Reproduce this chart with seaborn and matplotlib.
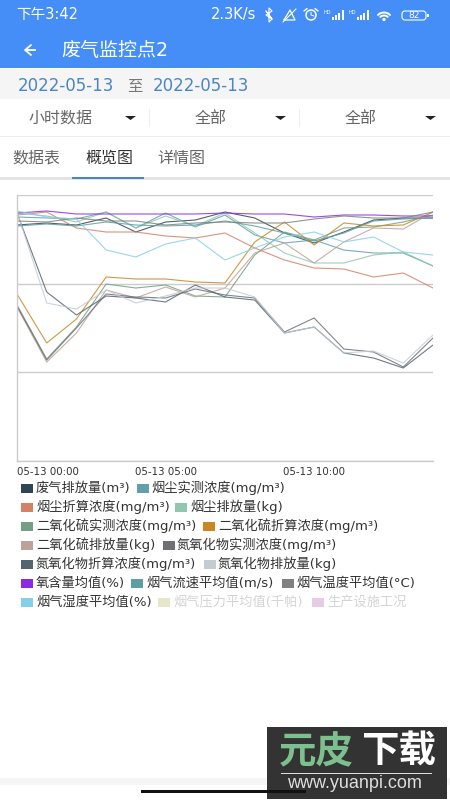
import numpy as np
import pandas as pd
import seaborn as sns
import matplotlib
matplotlib.use("Agg")
import matplotlib.pyplot as plt
from matplotlib.patches import Rectangle, Polygon, FancyBboxPatch, Arc, Circle

hours = ["00", "01", "02", "03", "04", "05", "06", "07", "08", "09", "10", "11", "12", "13", "14"]
tick_idx = [0, 5, 10]
tick_labels = ["05-13 00:00", "05-13 05:00", "05-13 10:00"]

exhaust = [236,238,236,243,229,239,241,249,243,228,218,229,241,243,243]
dust_raw = [244,243,242,249,233,248,234,246,226,218,221,211,208,208,195]
dust_conv = [246,249,233,229,229,225,223,228,213,201,193,192,184,188,173]
dust_mass = [248,245,239,249,233,245,235,248,228,208,198,198,206,209,195]
so2_raw = [156,102,134,177,173,176,165,164,206,229,221,233,234,239,246]
so2_conv = [167,118,142,184,182,182,179,178,219,239,216,238,235,236,249]
so2_mass = [154,99,128,171,163,174,164,173,208,218,198,219,233,232,249]
nox_raw = [155,101,133,167,164,163,172,166,163,129,143,112,109,94,123]
nox_conv = [248,169,146,165,163,159,176,164,161,128,134,108,103,93,116]
nox_mass = [249,158,152,171,158,165,173,173,164,128,134,108,110,98,126]
oxygen = [248,250,247,247,247,247,247,248,247,247,244,246,246,245,245]
flow = [235,237,235,239,236,235,236,240,235,228,220,228,240,242,243]
temperature = [240,239,243,240,240,236,238,239,238,238,242,245,243,243,249]
humidity = [250,244,242,211,204,217,223,201,213,224,229,219,224,209,206]

names = ["废气排放量(m³)", "烟尘实测浓度(mg/m³)", "烟尘折算浓度(mg/m³)", "烟尘排放量(kg)",
         "二氧化硫实测浓度(mg/m³)", "二氧化硫折算浓度(mg/m³)", "二氧化硫排放量(kg)",
         "氮氧化物实测浓度(mg/m³)", "氮氧化物折算浓度(mg/m³)", "氮氧化物排放量(kg)",
         "氧含量均值(%)", "烟气流速平均值(m/s)", "烟气温度平均值(°C)", "烟气湿度平均值(%)",
         "烟气压力平均值(千帕)", "生产设施工况"]
colors = ["#2f4554", "#61a0a8", "#d48265", "#91c7ae", "#749f83", "#ca8622", "#bda29a", "#6e7074",
          "#546570", "#c4ccd3", "#8a2be2", "#5f9ea0", "#808080", "#87ceeb", "#e6e6cc", "#e6cce6"]
values = [exhaust, dust_raw, dust_conv, dust_mass, so2_raw, so2_conv, so2_mass, nox_raw,
          nox_conv, nox_mass, oxygen, flow, temperature, humidity]

sns.set_theme(style="white")
plt.rcParams['font.family'] = ['DejaVu Sans', 'Noto Sans CJK SC']

fig = plt.figure(figsize=(4.5, 8), dpi=100, facecolor="white")

# app chrome in pixel coordinates
ui = fig.add_axes([0, 0, 1, 1], zorder=0)
ui.set_xlim(0, 450); ui.set_ylim(800, 0); ui.axis("off")
def rect(x, y, w, h, c, **k):
    ui.add_patch(Rectangle((x, y), w, h, fc=c, ec="none", **k))
def txt(x, y, s, size, c="#555555", ha="left", **k):
    ui.text(x, y, s, fontsize=size, color=c, ha=ha, va="center", **k)

rect(0, 0, 450, 68, "#458ef7")
rect(0, 69, 450, 30, "#f5f5f5")
rect(0, 136, 450, 1, "#eeeeee")
rect(0, 177, 450, 3, "#e4e4e4")
rect(72, 176.5, 72, 2, "#4a86c6")
rect(149, 109, 1, 18, "#eeeeee"); rect(299, 109, 1, 18, "#eeeeee")
rect(0, 778, 450, 7, "#f5f5f5")

txt(16, 15, "下午3:42", 10.5, "white")
txt(211, 15, "2.3K/s", 10.5, "white")
# status icons
ui.plot([266, 272, 266, 272, 269, 269, 272, 266], [11, 19, 15, 11, 8, 22, 19, 11], color="white", lw=.8)
ui.plot([284, 290, 295, 288, 284], [20, 10, 20, 20, 20], color="white", lw=.9)
ui.plot([283, 296], [22, 9], color="white", lw=.8)
ui.add_patch(Circle((311, 15), 5, fc="none", ec="white", lw=1.1))
ui.plot([304, 307], [11, 8.5], color="white", lw=1); ui.plot([315, 318], [8.5, 11], color="white", lw=1)
ui.plot([311, 311, 314], [12, 15, 16], color="white", lw=.7)
for x0 in (324, 349):
    ui.text(x0 + 3, 12, "HD", fontsize=3.6, color="white", ha="center", va="center")
    for i, h in enumerate([3, 5, 7, 10]):
        rect(x0 + 8 + i * 3.2, 20 - h, 2, h, "white")
for r, lw in ((17, 1.4), (11, 1.4)):
    ui.add_patch(Arc((384, 21), r, r, theta1=220, theta2=320, color="white", lw=lw))
ui.add_patch(Circle((384, 19.5), 1.6, fc="white", ec="none"))
ui.add_patch(FancyBboxPatch((402, 11), 24, 9, boxstyle="round,pad=0,rounding_size=3", fc="none", ec="white", lw=.8))
ui.text(414, 15.5, "82", fontsize=6.5, color="white", ha="center", va="center")
rect(427, 14, 1.5, 3, "white")

ui.annotate("", xy=(21, 50), xytext=(38, 50), arrowprops=dict(arrowstyle="->,head_width=0.3,head_length=0.35", color="white", lw=1.3))
txt(61, 51, "废气监控点2", 13.7, "white")
txt(18, 86, "2022-05-13", 12, "#4a86c6")
txt(127, 86, "至", 11, "#777777")
txt(153, 86, "2022-05-13", 12, "#4a86c6")
txt(29, 118, "小时数据", 11.5, "#666666")
txt(195, 118, "全部", 11.5, "#666666")
txt(345, 118, "全部", 11.5, "#666666")
for x0 in (125, 275, 425):
    ui.add_patch(Polygon([[x0, 116], [x0 + 11, 116], [x0 + 5.5, 120]], fc="#222222", ec="none"))
txt(12, 158, "数据表", 11.5, "#666666")
txt(85, 158, "概览图", 11.5, "#333333")
txt(157, 158, "详情图", 11.5, "#666666")

# chart
frame = pd.DataFrame([
    {"hour": i, "value": v, "series": n}
    for n, series in zip(names, values) for i, v in enumerate(series)
])
ax = fig.add_axes([17 / 450, (800 - 461) / 800, 416 / 450, 266 / 800], zorder=1)
ax.patch.set_alpha(0)
sns.lineplot(data=frame, x="hour", y="value", hue="series", hue_order=names[:14],
             palette=colors[:14], linewidth=0.8, alpha=0.85, legend=False, ax=ax, estimator=None, sort=False)
ax.set_xlim(0, 14); ax.set_ylim(0, 266)
ax.set_xlabel(""); ax.set_ylabel("")
ax.set_yticks(np.linspace(0, 266, 4)); ax.set_yticklabels([])
ax.set_xticks(tick_idx)
ax.set_xticklabels(tick_labels, fontsize=7.4, color="#333333")
ax.get_xticklabels()[0].set_ha("left")
ax.tick_params(axis="both", length=0, pad=4)
ax.grid(axis="y", color="#cccccc", lw=1)
sns.despine(ax=ax, top=True, right=True)
for s in ("left", "bottom"):
    ax.spines[s].set_color("#cccccc"); ax.spines[s].set_linewidth(1)

# legend laid out as in the original wrapped rows
rows = [(488, [(21, 36, 0), (137, 151, 1)]),
        (507, [(21, 36, 2), (175, 190, 3)]),
        (526, [(21, 36, 4), (203, 218, 5)]),
        (545, [(21, 36, 6), (163, 177, 7)]),
        (564, [(21, 36, 8), (204, 218, 9)]),
        (583, [(21, 36, 10), (131, 146, 11), (282, 296, 12)]),
        (602, [(21, 36, 13), (158, 173, 14), (312, 327, 15)])]
for y, row in rows:
    for hx, tx, k in row:
        rect(hx, y - 4.5, 12, 9, colors[k])
        txt(tx, y, names[k], 9.5, "#333333" if k < 14 else "#d4d4d4")

# watermark
rect(267, 727, 180, 72, "#333333")
txt(279, 753, "元皮", 27, "#7dbf8e", fontweight="bold")
txt(361, 753, "下载", 27, "white", fontweight="bold")
rect(281, 773, 151, 1, "#dddddd")
txt(354, 784, "www.yuanpi.com", 13, "#dddddd", ha="center", family=["Liberation Sans"])
rect(141, 790, 165, 2.5, "#111111")

fig.savefig("out.png", dpi=100)
